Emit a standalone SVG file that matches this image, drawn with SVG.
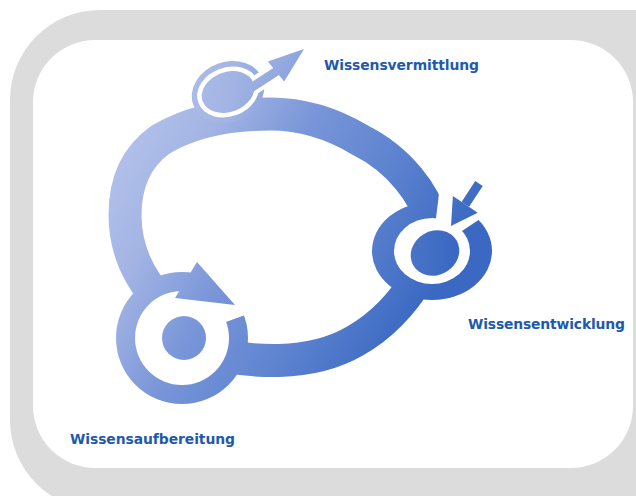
<svg xmlns="http://www.w3.org/2000/svg" width="636" height="496" viewBox="0 0 636 496">
  <defs>
    <linearGradient id="cycleBlue" gradientUnits="userSpaceOnUse" x1="130" y1="130" x2="430" y2="300">
      <stop offset="0" stop-color="#b2c1ea"/>
      <stop offset="0.2" stop-color="#a3b4e4"/>
      <stop offset="0.45" stop-color="#7895d8"/>
      <stop offset="0.7" stop-color="#5e84d0"/>
      <stop offset="1" stop-color="#3a68c2"/>
    </linearGradient>
    <style>
      .band { fill: none; stroke: url(#cycleBlue); stroke-width: 33; stroke-linecap: butt; }
      .blue { fill: url(#cycleBlue); }
      .gap { fill: #ffffff; }
      .label { font-family: "DejaVu Sans", Verdana, sans-serif; font-weight: bold; font-size: 13.9px; fill: #1d5aad; }
    </style>
  </defs>

  <!-- frame -->
  <rect x="0" y="0" width="636" height="496" fill="#ffffff"/>
  <rect x="10" y="10" width="720" height="500" rx="90" ry="90" fill="#dcdcdc"/>
  <rect x="33" y="40" width="600" height="428" rx="62" ry="62" fill="#ffffff"/>

  <!-- ring segments between the three stations -->
  <g id="connectors">
    <path class="band" d="M 432,222 C 425,195 400,160 360,140 C 335,125 305,114 270,114 C 230,114 190,122 160,140 C 135,158 125,185 125,215 C 125,250 140,280 160,300"/>
    <path class="band" d="M 200,350 C 250,364 310,367 355,341 C 385,324 405,300 420,275"/>
  </g>

  <!-- top station: outgoing arrow -->
  <g id="node-vermittlung">
    <ellipse class="blue" cx="228" cy="92" rx="37" ry="30" transform="rotate(-20 228 92)"/>
    <ellipse cx="228" cy="92" rx="27" ry="20" fill="none" stroke="#ffffff" stroke-width="9" transform="rotate(-20 228 92)"/>
    <line x1="240" y1="95" x2="278" y2="70" stroke="#ffffff" stroke-width="17"/>
    <ellipse class="blue" cx="228" cy="92" rx="27" ry="20" transform="rotate(-20 228 92)"/>
    <line x1="240" y1="95" x2="280" y2="69" stroke="url(#cycleBlue)" stroke-width="9"/>
    <polygon class="blue" points="304,49 267.8,61.4 284.2,81.6"/>
  </g>

  <!-- right station: incoming arrow -->
  <g id="node-entwicklung">
    <ellipse class="blue" cx="432" cy="251" rx="60" ry="49"/>
    <ellipse class="gap" cx="432" cy="251" rx="38" ry="33"/>
    <polygon class="gap" points="432,251 441.7,171.6 501,205"/>
    <ellipse class="blue" cx="435" cy="253" rx="25" ry="22" transform="rotate(-30 435 253)"/>
    <line x1="465.3" y1="204.4" x2="479" y2="183.5" stroke="url(#cycleBlue)" stroke-width="9"/>
    <polygon class="blue" points="451,226 452.9,196.1 477.7,212.7"/>
  </g>

  <!-- lower left station: circulating arrow -->
  <g id="node-aufbereitung">
    <circle class="blue" cx="182" cy="338" r="66"/>
    <circle class="gap" cx="182" cy="338" r="47"/>
    <polygon class="gap" points="182,338 197.6,249.4 266.6,307.2"/>
    <circle class="blue" cx="184" cy="338" r="22"/>
    <polygon class="blue" points="235,305 197,262 175,298"/>
  </g>

  <text class="label" x="324" y="70" textLength="155">Wissensvermittlung</text>
  <text class="label" x="468" y="329" textLength="157">Wissensentwicklung</text>
  <text class="label" x="70" y="444" textLength="165">Wissensaufbereitung</text>
</svg>
